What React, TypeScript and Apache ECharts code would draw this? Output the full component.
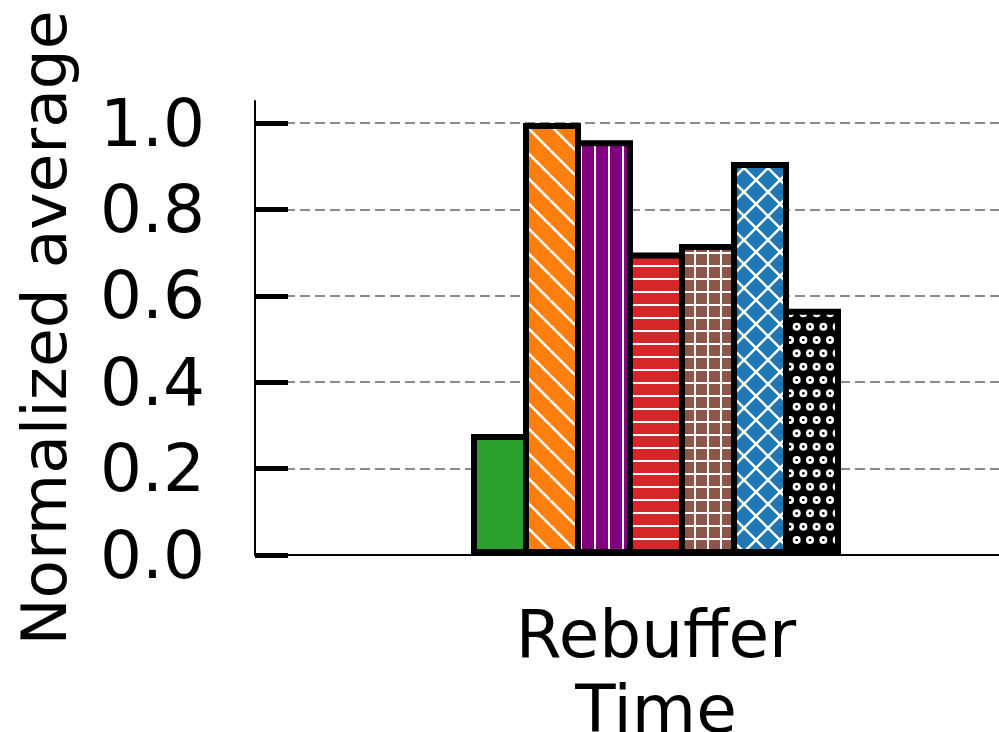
import React, { useEffect, useRef } from 'react';
import * as echarts from 'echarts';

// ---- data ----
const categories = ['Rebuffer\nTime'];
const seriesNames = ['Scheme 1', 'Scheme 2', 'Scheme 3', 'Scheme 4', 'Scheme 5', 'Scheme 6', 'Scheme 7'];
const seriesValues = [0.28, 1.0, 0.96, 0.70, 0.72, 0.91, 0.57];
const yTickMin = 0;
const yTickMax = 1.0;
const yTickStep = 0.2;
const yAxisTop = 1.05;
const yAxisName = 'Normalized average';

// ---- styles ----
const barColors = ['#2ca02c', '#ff7f0e', '#800080', '#d62728', '#8c564b', '#1f77b4', '#000000'];
const barHatches = ['none', 'diag', 'vert', 'horiz', 'grid', 'cross', 'dots'];
const FONT = 'DejaVu Sans';
const BORDER = 6;
const BAR_INNER = 52;

function makeFill(bg: string, hatch: string): any {
  if (hatch === 'none') return bg;
  let w = 24;
  let h = 24;
  if (hatch === 'diag') { w = 25; h = 25; }
  else if (hatch === 'cross') { w = 24; h = 24; }
  else if (hatch === 'vert') { w = 14; h = 14; }
  else if (hatch === 'horiz') { w = 13; h = 13; }
  else if (hatch === 'grid') { w = 13; h = 13; }
  else if (hatch === 'dots') { w = 40; h = 80; }
  const c = document.createElement('canvas');
  c.width = w;
  c.height = h;
  const ctx = c.getContext('2d')!;
  ctx.fillStyle = bg;
  ctx.fillRect(0, 0, w, h);
  ctx.strokeStyle = '#ffffff';
  ctx.fillStyle = '#ffffff';
  ctx.lineWidth = 2.6;
  const line = (x1: number, y1: number, x2: number, y2: number) => {
    ctx.beginPath();
    ctx.moveTo(x1, y1);
    ctx.lineTo(x2, y2);
    ctx.stroke();
  };
  if (hatch === 'diag' || hatch === 'cross') {
    for (let k = -1; k <= 1; k++) line(k * w, 0, k * w + w, h);
    if (hatch === 'cross') for (let k = -1; k <= 1; k++) line(k * w, h, k * w + w, 0);
  } else if (hatch === 'vert') {
    ctx.lineWidth = 2;
    line(7, 0, 7, h);
  } else if (hatch === 'horiz') {
    ctx.lineWidth = 2;
    line(0, 6, w, 6);
  } else if (hatch === 'grid') {
    ctx.lineWidth = 2;
    line(6, 0, 6, h);
    line(0, 6, w, 6);
  } else if (hatch === 'dots') {
    const step = 40 / 3;
    for (let r = 0; r < 6; r++) {
      const y = r * step + step / 2;
      const off = r % 2 === 0 ? step / 2 : 0;
      for (let col = -1; col <= 3; col++) {
        const x = col * step + off + step / 4;
        ctx.fillStyle = '#ffffff';
        ctx.beginPath();
        ctx.arc(x, y, 4, 0, Math.PI * 2);
        ctx.fill();
        ctx.fillStyle = bg;
        ctx.beginPath();
        ctx.arc(x, y, 1.3, 0, Math.PI * 2);
        ctx.fill();
      }
    }
  }
  return { image: c, repeat: 'repeat', imageWidth: w, imageHeight: h };
}

export default function App() {
  const ref = useRef<HTMLDivElement>(null);
  useEffect(() => {
    if (!ref.current) return;
    const chart = echarts.init(ref.current, null, { renderer: 'svg' });
    const fills = barColors.map((c, i) => makeFill(c, barHatches[i]));
    const fullBar = BAR_INNER + BORDER;
    const option: any = {
      animation: false,
      grid: [
        { left: 255, right: -58, top: 123, bottom: 177, containLabel: false, outerBoundsMode: 'none' },
        { left: 255, right: -58, top: 101, bottom: 177, containLabel: false, outerBoundsMode: 'none' },
      ],
      xAxis: [
        {
          type: 'category',
          gridIndex: 0,
          data: categories,
          axisLine: { show: true, lineStyle: { color: '#000', width: 2 } },
          axisTick: { show: false },
          axisLabel: { fontSize: 66, lineHeight: 75, color: '#000', fontFamily: FONT, margin: 42 },
          splitLine: { show: false },
          z: 5,
        },
        { type: 'category', gridIndex: 1, data: categories, show: false },
      ],
      yAxis: [
        {
          type: 'value',
          gridIndex: 0,
          min: yTickMin,
          max: yTickMax,
          interval: yTickStep,
          axisLine: { show: false },
          axisTick: { show: true, inside: true, length: 33, lineStyle: { color: '#000', width: 5 } },
          axisLabel: {
            formatter: (v: number) => v.toFixed(1),
            fontSize: 66,
            color: '#000',
            fontFamily: FONT,
            margin: 50,
          },
          splitLine: { show: true, lineStyle: { color: '#8a8a8a', width: 2, type: [10, 5] } },
        },
        {
          type: 'value',
          gridIndex: 1,
          min: yTickMin,
          max: yAxisTop,
          axisLine: { show: true, lineStyle: { color: '#000', width: 2 } },
          axisTick: { show: false },
          axisLabel: { show: false },
          splitLine: { show: false },
          name: yAxisName,
          nameLocation: 'middle',
          nameGap: 179,
          nameTextStyle: { fontSize: 63, color: '#000', fontFamily: FONT },
        },
      ],
      series: seriesValues.map((v, i) => ({
        type: 'bar',
        name: seriesNames[i],
        xAxisIndex: 0,
        yAxisIndex: 0,
        data: [v],
        barWidth: fullBar,
        barGap: `${(-BORDER / fullBar) * 100}%`,
        clip: false,
        itemStyle: { color: fills[i], borderColor: '#000', borderWidth: BORDER },
      })),
    };
    chart.setOption(option);
    return () => chart.dispose();
  }, []);
  return (
    <div
      ref={ref}
      style={{ position: 'fixed', left: 0, top: 0, width: 999, height: 732, background: '#fff' }}
    />
  );
}
